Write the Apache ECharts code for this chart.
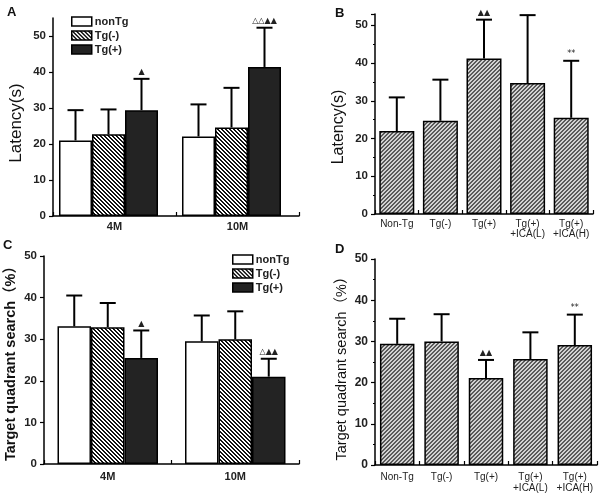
<!DOCTYPE html>
<html><head><meta charset="utf-8">
<script src="https://cdn.jsdelivr.net/npm/echarts@6/dist/echarts.min.js"></script>
<style>html,body{margin:0;padding:0;background:#fff}#c{width:605px;height:498px}</style>
</head><body><div id="c"></div>
<script>
// ---------- data ----------
const ageCats = ['4M', '10M'];
const groupNames = ['nonTg', 'Tg(-)', 'Tg(+)'];
const treatCats = ['Non-Tg', 'Tg(-)', 'Tg(+)', 'Tg(+)\n+ICA(L)', 'Tg(+)\n+ICA(H)'];

// Panel A: latency (s) by age
const aNonTgMean = [21.0, 22.1];
const aNonTgSd   = [8.4, 8.9];
const aTgMinusMean = [22.7, 24.6];
const aTgMinusSd   = [6.9, 11.0];
const aTgPlusMean = [29.4, 41.4];
const aTgPlusSd   = [8.7, 10.9];
const aTgPlusMark = ['▲', '△△▲▲'];

// Panel B: latency (s) by treatment
const bMean = [22.0, 24.7, 41.2, 34.7, 25.5];
const bSd   = [8.9, 10.9, 10.3, 18.0, 15.1];
const bMark = ['', '', '▲▲', '', '**'];

// Panel C: target quadrant search (%) by age
const cNonTgMean = [33.1, 29.5];
const cNonTgSd   = [7.4, 6.2];
const cTgMinusMean = [32.9, 30.0];
const cTgMinusSd   = [5.8, 6.7];
const cTgPlusMean = [25.5, 21.0];
const cTgPlusSd   = [6.6, 4.3];
const cTgPlusMark = ['▲', '△▲▲'];

// Panel D: target quadrant search (%) by treatment
const dMean = [29.4, 30.0, 21.1, 25.7, 29.1];
const dSd   = [6.1, 6.6, 4.4, 6.5, 7.4];
const dMark = ['', '', '▲▲', '', '**'];

// ---------- patterns ----------
function stripes(size, w, bg, fg, back) {
  const cv = document.createElement('canvas');
  cv.width = size; cv.height = size;
  const ctx = cv.getContext('2d');
  const img = ctx.createImageData(size, size);
  const p = (c) => [parseInt(c.substr(1,2),16), parseInt(c.substr(3,2),16), parseInt(c.substr(5,2),16)];
  const B = p(bg), F = p(fg);
  for (let y = 0; y < size; y++) for (let x = 0; x < size; x++) {
    const d = back ? ((x - y) % size + size) % size : (x + y) % size;
    const c = d < w ? F : B;
    const k = (y * size + x) * 4;
    img.data[k] = c[0]; img.data[k+1] = c[1]; img.data[k+2] = c[2]; img.data[k+3] = 255;
  }
  ctx.putImageData(img, 0, 0);
  return { image: cv, repeat: 'repeat' };
}
const fillWhite = '#ffffff';
const fillBW = stripes(4, 2, '#ffffff', '#111111', true);
const fillDark = '#232323';
const fillGray = stripes(4, 2, '#d2d2d2', '#5a5a5a', false);
const groupFills = [fillWhite, fillBW, fillDark];

const FF = "'Liberation Sans', Arial, 'Noto Sans CJK SC', sans-serif";

// ---------- helpers ----------
function errSeries(gi, means, sds, marks, offset) {
  const data = means.map((m, j) => [j, m, m + sds[j]]);
  return {
    type: 'custom', xAxisIndex: gi, yAxisIndex: gi, z: 5, silent: true,
    encode: { x: 0, y: [1, 2] },
    data: data,
    renderItem: function (params, api) {
      const j = api.value(0);
      const p0 = api.coord([j, api.value(1)]);
      const p1 = api.coord([j, api.value(2)]);
      const x = p0[0] + offset;
      const cw = 8;
      const ch = [
        { type: 'line', shape: { x1: x, y1: p0[1], x2: x, y2: p1[1] }, style: { stroke: '#000', lineWidth: 2 } },
        { type: 'line', shape: { x1: x - cw, y1: p1[1], x2: x + cw, y2: p1[1] }, style: { stroke: '#000', lineWidth: 2 } }
      ];
      const t = marks ? marks[params.dataIndex] : '';
      if (t) {
        ch.push({ type: 'text', style: { text: t, x: x, y: p1[1] - 3, align: 'center', verticalAlign: 'bottom',
          textAlign: 'center', textVerticalAlign: 'bottom', fontSize: 8, fontFamily: "'DejaVu Sans', sans-serif", fill: '#222' } });
      }
      return { type: 'group', children: ch };
    }
  };
}

const axisLineStyle = { show: true, lineStyle: { color: '#000', width: 1.5 } };

function catAxis(gi, data, fontSize, bold, margin, lineHeight) {
  return {
    type: 'category', gridIndex: gi, data: data, boundaryGap: true,
    axisLine: axisLineStyle,
    axisTick: { show: true, inside: true, length: 4, lineStyle: { color: '#000', width: 1.2 } },
    axisLabel: { fontSize: fontSize, fontWeight: bold ? 'bold' : 'normal', color: '#222', fontFamily: FF, margin: margin, lineHeight: lineHeight || fontSize + 1, interval: 0 },
    splitLine: { show: false }
  };
}
function valAxis(gi, max, name, nameSize, nameBold, nameGap, namePad, labelSize, minor) {
  return {
    type: 'value', gridIndex: gi, min: 0, max: max, interval: 10,
    name: name, nameLocation: 'middle', nameGap: nameGap,
    nameTextStyle: { fontSize: nameSize, fontWeight: nameBold ? 'bold' : 'normal', color: '#111', fontFamily: FF, padding: namePad },
    axisLine: axisLineStyle,
    axisTick: { show: true, length: 4, lineStyle: { color: '#000', width: 1.2 } },
    minorTick: { show: !!minor, splitNumber: 2, length: 2, lineStyle: { color: '#000', width: 1 } },
    axisLabel: { fontSize: labelSize, fontWeight: 'bold', color: '#222', fontFamily: FF, margin: 7, showMaxLabel: max % 10 === 0 },
    splitLine: { show: false }, minorSplitLine: { show: false }
  };
}

const barStyle = (c) => ({ color: c, borderColor: '#000', borderWidth: 1.5 });

const series = [];
// A
const aGroups = [[aNonTgMean, aNonTgSd, null], [aTgMinusMean, aTgMinusSd, null], [aTgPlusMean, aTgPlusSd, aTgPlusMark]];
aGroups.forEach((g, i) => {
  series.push({ type: 'bar', name: groupNames[i], xAxisIndex: 0, yAxisIndex: 0, data: g[0], barWidth: 33, barGap: '0%', itemStyle: barStyle(groupFills[i]), silent: true });
});
// empty spacer slot so the group sits a little left of the band centre, as in the original
series.push({ type: 'bar', name: '_spacer', xAxisIndex: 0, yAxisIndex: 0, data: ['-', '-'], barWidth: 12, barGap: '0%', silent: true, itemStyle: { color: 'transparent' } });
aGroups.forEach((g, i) => {
  series.push(errSeries(0, g[0], g[1], g[2], (i - 1) * 33 - 6));
});
// B
series.push({ type: 'bar', name: 'B', xAxisIndex: 1, yAxisIndex: 1, data: bMean, barWidth: 35, itemStyle: barStyle(fillGray), silent: true });
series.push(errSeries(1, bMean, bSd, bMark, 0));
// C
const cGroups = [[cNonTgMean, cNonTgSd, null], [cTgMinusMean, cTgMinusSd, null], [cTgPlusMean, cTgPlusSd, cTgPlusMark]];
cGroups.forEach((g, i) => {
  series.push({ type: 'bar', name: groupNames[i], xAxisIndex: 2, yAxisIndex: 2, data: g[0], barWidth: 33.5, barGap: '0%', itemStyle: barStyle(groupFills[i]), silent: true });
});
cGroups.forEach((g, i) => {
  series.push(errSeries(2, g[0], g[1], g[2], (i - 1) * 33.5));
});
// D
series.push({ type: 'bar', name: 'D', xAxisIndex: 3, yAxisIndex: 3, data: dMean, barWidth: 34.5, itemStyle: barStyle(fillGray), silent: true });
series.push(errSeries(3, dMean, dSd, dMark, 0));

const legendBase = {
  orient: 'vertical', icon: 'rect', itemWidth: 20, itemHeight: 9, itemGap: 3, selectedMode: false,
  data: groupNames,
  textStyle: { fontSize: 11, fontWeight: 'bold', color: '#222', fontFamily: FF, padding: [0, 0, 0, -2] },
  itemStyle: { borderColor: '#000', borderWidth: 1.5 }
};

const letter = (t, x, y) => ({ type: 'text', left: x, top: y, style: { text: t, fontSize: 13, fontWeight: 'bold', fill: '#111', fontFamily: FF } });

const option = {
  animation: false,
  backgroundColor: '#fff',
  grid: [
    { left: 53, top: 18, width: 246, height: 198 },
    { left: 375, top: 14, width: 218, height: 200 },
    { left: 44, top: 256, width: 255, height: 208 },
    { left: 375, top: 259, width: 222, height: 206 }
  ],
  xAxis: [
    catAxis(0, ageCats, 11, true, 5),
    catAxis(1, treatCats, 10, false, 5, 10),
    catAxis(2, ageCats, 11, true, 7),
    catAxis(3, treatCats, 10, false, 7, 11)
  ],
  yAxis: [
    valAxis(0, 55, 'Latency(s)', 17, false, 28, [0, 12, 0, 0], 11.5, false),
    valAxis(1, 53, 'Latency(s)', 16, false, 28, [0, 26, 0, 0], 11.5, true),
    valAxis(2, 50, 'Target quadrant search（%）', 14.5, true, 26, 0, 11.5, false),
    valAxis(3, 50, 'Target quadrant search（%）', 14.5, false, 26, [0, 6, 0, 0], 12, true)
  ],
  legend: [
    Object.assign({}, legendBase, { left: 66, top: 11 }),
    Object.assign({}, legendBase, { left: 227, top: 249 })
  ],
  graphic: [letter('A', 7, 6), letter('B', 335, 7), letter('C', 3, 239), letter('D', 335, 243)],
  series: series
};

const chart = echarts.init(document.getElementById('c'), null, { renderer: 'canvas' });
chart.setOption(option);
</script>
</body></html>
